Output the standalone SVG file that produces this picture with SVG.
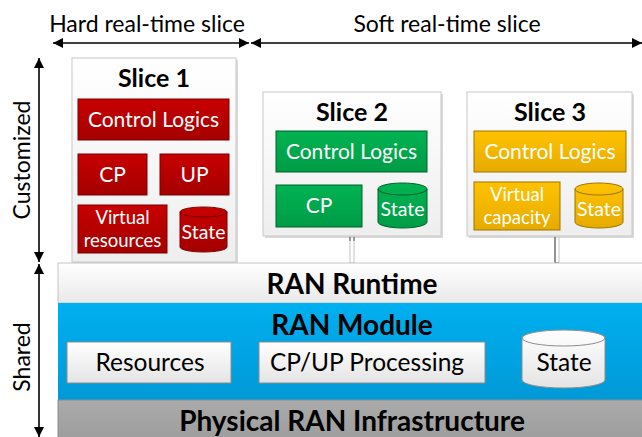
<svg xmlns="http://www.w3.org/2000/svg" width="642" height="437" viewBox="0 0 642 437">
<defs>
<linearGradient id="gSlice" x1="0" y1="0" x2="0" y2="1"><stop offset="0" stop-color="#ffffff"/><stop offset="1" stop-color="#eeeeee"/></linearGradient>
<linearGradient id="gRed" x1="0" y1="0" x2="0" y2="1"><stop offset="0" stop-color="#c80000"/><stop offset="1" stop-color="#a40000"/></linearGradient>
<linearGradient id="gGreen" x1="0" y1="0" x2="0" y2="1"><stop offset="0" stop-color="#00b352"/><stop offset="1" stop-color="#009c46"/></linearGradient>
<linearGradient id="gGold" x1="0" y1="0" x2="0" y2="1"><stop offset="0" stop-color="#ffc200"/><stop offset="1" stop-color="#e6ab00"/></linearGradient>
<linearGradient id="gRun" x1="0" y1="0" x2="0" y2="1"><stop offset="0" stop-color="#ffffff"/><stop offset="1" stop-color="#e9e9e9"/></linearGradient>
<linearGradient id="gBlue" x1="0" y1="0" x2="0" y2="1"><stop offset="0" stop-color="#00b0f0"/><stop offset="1" stop-color="#0099d6"/></linearGradient>
<linearGradient id="gGray" x1="0" y1="0" x2="0" y2="1"><stop offset="0" stop-color="#ababab"/><stop offset="1" stop-color="#9d9d9d"/></linearGradient>
<linearGradient id="gWhite" x1="0" y1="0" x2="0" y2="1"><stop offset="0" stop-color="#ffffff"/><stop offset="1" stop-color="#e4e4e4"/></linearGradient>
<marker id="ah" viewBox="0 0 10 10" refX="10" refY="5" markerWidth="10" markerHeight="10" markerUnits="userSpaceOnUse" orient="auto-start-reverse"><path d="M0,0 L10,5 L0,10 Z" fill="#000"/></marker>
</defs>
<style>
text{font-family:Lato,"Noto Sans",sans-serif;text-anchor:middle}
.lbl{font-size:23px;fill:#000}
.title{font-size:25px;font-weight:bold;fill:#000}
.big{font-size:28px;font-weight:bold;fill:#000}
.wt{font-size:21px;fill:#fff}
.wt2{font-size:18.5px;fill:#fff}
.st{font-size:19.5px;fill:#fff}
.bk{font-size:24.5px;fill:#000}
.slice{fill:url(#gSlice);stroke:#c8c8c8;stroke-width:1}
.shadow{fill:#dadada}
.red{fill:url(#gRed);stroke:#7a0000;stroke-width:1}
.green{fill:url(#gGreen);stroke:#00602a;stroke-width:1}
.gold{fill:url(#gGold);stroke:#9c7400;stroke-width:1}
.wbox{fill:url(#gWhite);stroke:#8c8c8c;stroke-width:1}
.rim{fill:none;stroke-width:1}
.arrow{stroke:#000;stroke-width:1.6;fill:none}
</style>

<g id="scope-labels">
<text class="lbl" x="147" y="32">Hard real-time slice</text>
<text class="lbl" x="447" y="32">Soft real-time slice</text>
<text class="lbl" transform="translate(30,160) rotate(-90)">Customized</text>
<text class="lbl" transform="translate(30,357) rotate(-90)">Shared</text>
</g>

<g id="scope-arrows">
<line class="arrow" x1="53" y1="43" x2="249" y2="43" marker-start="url(#ah)" marker-end="url(#ah)"/>
<line class="arrow" x1="251" y1="43" x2="642" y2="43" marker-start="url(#ah)" marker-end="url(#ah)"/>
<line class="arrow" x1="39" y1="58" x2="39" y2="262" stroke="#333" marker-start="url(#ah)" marker-end="url(#ah)"/>
<line class="arrow" x1="39" y1="264" x2="39" y2="437" stroke="#333" marker-start="url(#ah)" marker-end="url(#ah)"/>
</g>

<g id="slice1">
<rect class="shadow" x="74" y="60" width="164" height="204"/>
<rect class="slice" x="72" y="58" width="164" height="204"/>
<text class="title" x="154" y="87">Slice 1</text>
<rect class="red" x="78" y="99" width="151" height="41"/>
<text class="wt" x="153.5" y="127">Control Logics</text>
<rect class="red" x="78" y="154" width="69" height="41"/>
<text class="wt" x="112.5" y="182">CP</text>
<rect class="red" x="160" y="154" width="69" height="41"/>
<text class="wt" x="194.5" y="182">UP</text>
<rect class="red" x="78" y="205" width="89" height="48"/>
<text class="wt2" x="122.5" y="224">Virtual</text>
<text class="wt2" x="122.5" y="247">resources</text>
<path class="red" d="M180,212 A23.5,5 0 0 1 227,212 L227,247 A23.5,5 0 0 1 180,247 Z"/>
<path class="rim" stroke="#7a0000" d="M180,212 A23.5,5 0 0 0 227,212"/>
<text class="st" x="203.5" y="239">State</text>
</g>

<g id="slice2">
<rect class="shadow" x="265" y="94" width="178" height="144"/>
<rect class="slice" x="263" y="92" width="178" height="144"/>
<text class="title" x="352" y="121">Slice 2</text>
<rect class="green" x="276" y="131" width="151" height="41"/>
<text class="wt" x="351.5" y="159">Control Logics</text>
<rect class="green" x="276" y="185" width="86" height="42"/>
<text class="wt" x="319" y="213">CP</text>
<path class="green" d="M378,189 A24.5,6 0 0 1 427,189 L427,222 A24.5,6 0 0 1 378,222 Z"/>
<path class="rim" stroke="#00602a" d="M378,189 A24.5,6 0 0 0 427,189"/>
<text class="st" x="402.5" y="216">State</text>
</g>

<g id="slice3">
<rect class="shadow" x="469" y="94" width="165" height="144"/>
<rect class="slice" x="467" y="92" width="165" height="144"/>
<text class="title" x="550" y="121">Slice 3</text>
<rect class="gold" x="474" y="131" width="152" height="41"/>
<text class="wt" x="550" y="159">Control Logics</text>
<rect class="gold" x="474" y="182" width="86" height="48"/>
<text class="wt2" x="517" y="201">Virtual</text>
<text class="wt2" x="517" y="224">capacity</text>
<path class="gold" d="M575,189 A24,6 0 0 1 623,189 L623,222 A24,6 0 0 1 575,222 Z"/>
<path class="rim" stroke="#9c7400" d="M575,189 A24,6 0 0 0 623,189"/>
<text class="st" x="599" y="216">State</text>
</g>

<g id="connectors">
<rect x="350" y="237" width="4" height="26" fill="#fff" stroke="#c4c4c4" stroke-width="1"/>
<line x1="350" y1="237" x2="350" y2="241" stroke="#555" stroke-width="1"/>
<line x1="354" y1="237" x2="354" y2="241" stroke="#555" stroke-width="1"/>
<rect x="555" y="237" width="4" height="26" fill="#fff" stroke="#c4c4c4" stroke-width="1"/>
<path d="M555,237 L555,263 L559,263" fill="none" stroke="#444" stroke-width="1"/>
</g>

<g id="ran-runtime">
<rect x="58" y="263" width="590" height="40" fill="url(#gRun)" stroke="#c4c4c4" stroke-width="1"/>
<text class="big" x="352" y="294">RAN Runtime</text>
</g>

<g id="ran-module">
<rect x="58" y="303" width="590" height="97" fill="url(#gBlue)"/>
<text class="big" x="352" y="335">RAN Module</text>
<rect class="wbox" x="67" y="342" width="164" height="41"/>
<text class="bk" x="150" y="371">Resources</text>
<rect class="wbox" x="259" y="342" width="226" height="41"/>
<text class="bk" x="367" y="371">CP/UP Processing</text>
<path class="wbox" d="M522,338 A41.5,8 0 0 1 605,338 L605,380 A41.5,8 0 0 1 522,380 Z"/>
<path class="rim" stroke="#8c8c8c" d="M522,338 A41.5,8 0 0 0 605,338"/>
<text class="bk" x="564" y="371">State</text>
</g>

<g id="physical-ran">
<rect x="58" y="400" width="590" height="40" fill="url(#gGray)" stroke="#8c8c8c" stroke-width="1"/>
<text class="big" x="352" y="431">Physical RAN Infrastructure</text>
</g>
</svg>
